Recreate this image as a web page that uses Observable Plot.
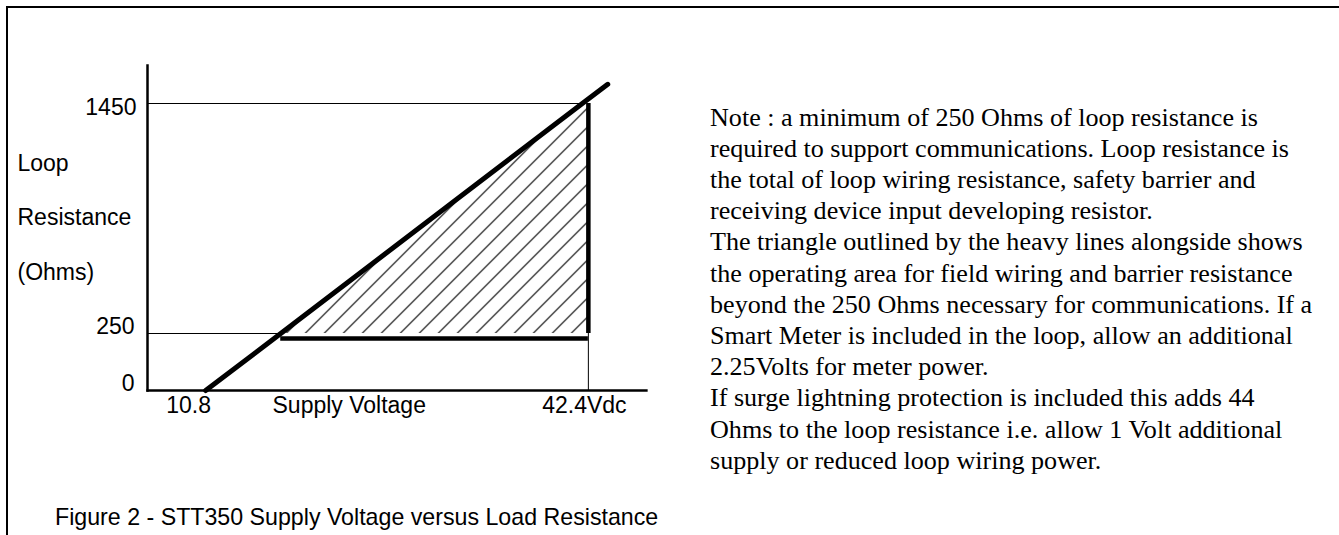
<!DOCTYPE html>
<html><head><meta charset="utf-8">
<script src="https://cdn.jsdelivr.net/npm/d3@7"></script>
<script src="https://cdn.jsdelivr.net/npm/@observablehq/plot@0.6"></script>
<style>
html,body{margin:0;padding:0;background:#fff;}
#page{position:relative;width:1339px;height:535px;overflow:hidden;background:#fff;}
#border{position:absolute;left:6px;top:6px;right:-10px;bottom:-10px;border-top:2px solid #000;border-left:2px solid #000;}
#chart{position:absolute;left:0;top:0;}
#note{position:absolute;left:710px;top:101.6px;font-family:"Liberation Serif","Times New Roman",serif;font-size:26.1px;line-height:31.2px;color:#000;white-space:nowrap;}
#caption{position:absolute;left:55px;top:504px;font-family:"Liberation Sans",Arial,sans-serif;font-size:23.2px;color:#000;white-space:nowrap;}
</style></head>
<body>
<div id="page"><div id="border"></div><div id="chart"></div><div id="note"></div><div id="caption"></div></div>
<script>
// ---- data ----
const xDomain = [6.0, 47.2];                 // extent of the supply-voltage axis (Vdc)
const yTicks = [0, 250, 1450];               // loop resistance ticks (Ohms)
const yTickLabels = ["0", "250", "1450"];
const xTicks = [10.8, 42.4];                 // supply voltage ticks
const xTickLabels = ["10.8", "42.4Vdc"];
const limitV = [10.8, 17.0, 41.9, 44.0];     // heavy load line (V)
const limitR = [0, 250, 1450, 1550];         // heavy load line (Ohms)
const areaV = [17.0, 41.9, 42.4];            // operating triangle (V)
const areaR = [250, 1450, 1450];             // operating triangle upper edge (Ohms)
const minR = 250, maxR = 1450, maxV = 42.4;
const yLabel = ["Loop", "Resistance", "(Ohms)"];
const xLabel = "Supply Voltage";
const caption = "Figure 2 - STT350 Supply Voltage versus Load Resistance";
const noteLines = [
  "Note : a minimum of 250 Ohms of loop resistance is",
  "required to support communications. Loop resistance is",
  "the total of loop wiring resistance, safety barrier and",
  "receiving device input developing resistor.",
  "The triangle outlined by the heavy lines alongside shows",
  "the operating area for field wiring and barrier resistance",
  "beyond the 250 Ohms necessary for communications. If a",
  "Smart Meter is included in the loop, allow an additional",
  "2.25Volts for meter power.",
  "If surge lightning protection is included this adds 44",
  "Ohms to the loop resistance i.e. allow 1 Volt additional",
  "supply or reduced loop wiring power."
];

const SANS = "Liberation Sans, Arial, sans-serif";
const FS = 23;
const W = 700, H = 470, ML = 147, MR = 54, MT = 65, MB = 80;

const lineData = limitV.map((v, i) => ({v, r: limitR[i]}));
const areaData = areaV.map((v, i) => ({v, r: areaR[i]}));

const chart = Plot.plot({
  width: W, height: H,
  marginLeft: ML, marginRight: MR, marginTop: MT, marginBottom: MB,
  x: {domain: xDomain, axis: null},
  y: {type: "linear", domain: yTicks, range: [H - MB, 333, 103], axis: null},
  style: {background: "transparent", color: "#000", overflow: "visible", fontFamily: SANS},
  marks: [
    Plot.areaY(areaData, {x: "v", y1: minR, y2: "r", fill: "url(#hatch)", stroke: "none"}),
    Plot.frame({anchor: "left", stroke: "#000", strokeWidth: 2.5}),
    Plot.frame({anchor: "bottom", stroke: "#000", strokeWidth: 2.3}),
    // thin reference lines
    Plot.ruleY([maxR], {x1: xDomain[0], x2: limitV[2], stroke: "#000", strokeWidth: 1}),
    Plot.ruleY([minR], {x1: xDomain[0], x2: limitV[1], stroke: "#000", strokeWidth: 1}),
    Plot.ruleX([maxV], {y1: 0, y2: minR, stroke: "#000", strokeWidth: 1}),
    // heavy outline
    Plot.ruleX([maxV], {y1: minR, y2: maxR, stroke: "#000", strokeWidth: 4.5}),
    Plot.ruleY([minR], {x1: limitV[1], x2: maxV, stroke: "#000", strokeWidth: 4.5, dy: 5}),
    Plot.line(lineData, {x: "v", y: "r", stroke: "#000", strokeWidth: 5}),
    // y tick labels
    Plot.text([yTicks[2]], {y: d => d, text: [yTickLabels[2]], frameAnchor: "left", textAnchor: "end", dx: -11, dy: 4, fontSize: FS, fontFamily: SANS, fill: "#000"}),
    Plot.text(yTicks.slice(0, 2), {y: d => d, text: yTickLabels.slice(0, 2), frameAnchor: "left", textAnchor: "end", dx: -13, dy: -6.5, fontSize: FS, fontFamily: SANS, fill: "#000"}),
    // x tick labels
    Plot.text([xTicks[0]], {x: d => d, text: [xTickLabels[0]], frameAnchor: "bottom", dx: -17, dy: 22, fontSize: FS, fontFamily: SANS, fill: "#000"}),
    Plot.text([xTicks[1]], {x: d => d, text: [xTickLabels[1]], frameAnchor: "bottom", dx: -4, dy: 22, fontSize: FS, fontFamily: SANS, fill: "#000"}),
    // axis titles
    Plot.text([xLabel], {text: d => d, frameAnchor: "bottom-left", textAnchor: "start", dx: 125, dy: 22, fontSize: FS, fontFamily: SANS, fill: "#000"}),
    Plot.text([yLabel.join("\n")], {text: d => d, frameAnchor: "top-left", textAnchor: "start", lineAnchor: "top", lineHeight: 2.39, dx: -130, dy: 66, fontSize: FS, fontFamily: SANS, fill: "#000"})
  ]
});

const defs = document.createElementNS("http://www.w3.org/2000/svg", "defs");
defs.innerHTML = '<pattern id="hatch" patternUnits="userSpaceOnUse" x="11.5" y="0" width="19" height="19">' +
  '<path d="M0,19L19,0M-2,2L2,-2M17,21L21,17" stroke="#000" stroke-width="1.1" fill="none"/></pattern>';
chart.insertBefore(defs, chart.firstChild);
document.getElementById("chart").appendChild(chart);

const note = document.getElementById("note");
noteLines.forEach((t, i) => {
  if (i) note.appendChild(document.createElement("br"));
  note.appendChild(document.createTextNode(t));
});
document.getElementById("caption").textContent = caption;
</script>
</body></html>
